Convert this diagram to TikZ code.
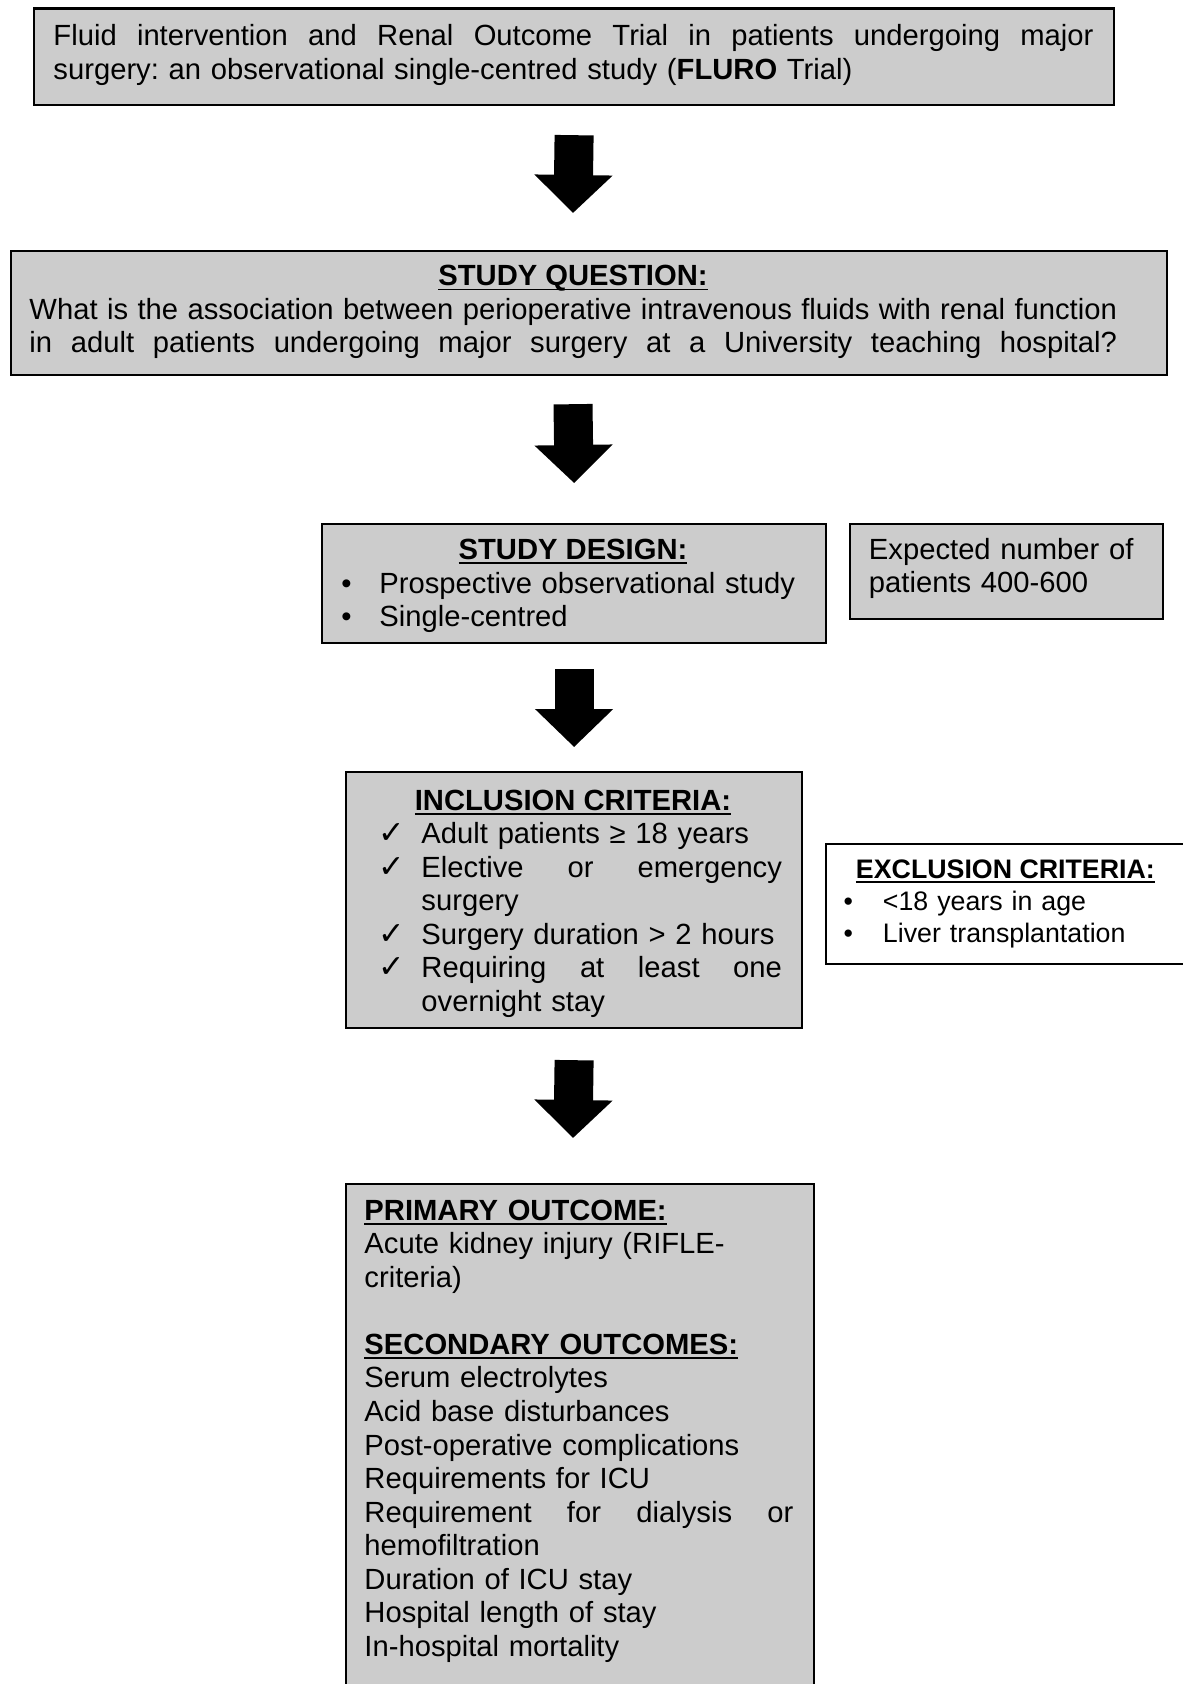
\documentclass[tikz,border=0pt]{standalone}
\usepackage{fontspec}
\setmainfont{Liberation Sans}
\newfontfamily\symfont{DejaVu Sans}
\usepackage{tikz}
\usetikzlibrary{arrows.meta,calc}
\definecolor{boxgray}{RGB}{204,204,204}
\newdimen\pxu \pxu=0.411pt
\frenchspacing
\newcommand{\hdr}[1]{\leavevmode\sbox0{\bfseries #1}\rlap{\rule[-1.9pt]{\wd0}{0.6pt}}\usebox0}
\newcommand{\jline}[2]{\leavevmode\hbox to #1\pxu{\spaceskip=0.278em plus 10em\relax #2}}
\newcommand{\chk}{\leavevmode\llap{{\fontsize{13}{13}\symfont ✓}\hspace{16\pxu}}}
\newcommand{\bul}[1]{\leavevmode\llap{•\hspace{#1\pxu}}}

\begin{document}
\begin{tikzpicture}[x=0.411pt,y=-0.411pt,
  panel/.style={draw=black,line width=0.9pt,fill=boxgray,inner sep=0pt,anchor=north west},
  body/.style={inner sep=0pt,anchor=base west,align=left,font=\fontsize{12}{13.8}\selectfont},
  small/.style={body,font=\fontsize{11}{13.15}\selectfont},
  head/.style={inner sep=0pt,anchor=base,font=\fontsize{12}{13.8}\selectfont},
  bigarrow/.style={line width=16.03pt,-{Triangle[width=31.24pt 0 0,length=15.62pt 0 0]}}]
\fill[white] (0,0) rectangle (1183,1684);
\clip (0,0) rectangle (1183,1684);
\coordinate (ax) at (573,0);

\node[panel,minimum width=1080*\pxu,minimum height=96.5*\pxu] (title) at (33,7.5) {};
\node[body,text width=1045*\pxu] (titletxt) at (53,45.5) {\jline{1040}{Fluid intervention and Renal Outcome Trial in patients undergoing major}\\
  surgery: an observational single-centred study (\textbf{FLURO} Trial)};

\node[panel,minimum width=1156.5*\pxu,minimum height=124*\pxu] (question) at (9.5,250) {};
\node[head] (qhead) at (573,285.5) {\hdr{STUDY QUESTION:}};
\node[body,text width=1095*\pxu] (qtxt) at (29,319) {\jline{1087.5}{What is the association between perioperative intravenous fluids with renal function}\\
  \jline{1087.5}{in adult patients undergoing major surgery at a University teaching hospital?}};

\node[panel,minimum width=504*\pxu,minimum height=119*\pxu] (design) at (321,523) {};
\node[head] (dhead) at (573,559) {\hdr{STUDY DESIGN:}};
\begin{scope}
\clip (321,523) rectangle (825,634);
\node[body,text width=420*\pxu] (dtxt) at (379,593) {\bul{28}Prospective observational study\\ \bul{28}Single-centred};
\end{scope}

\node[panel,minimum width=313*\pxu,minimum height=95*\pxu] (expected) at (849,523) {};
\node[body,text width=280*\pxu] (etxt) at (868.5,559) {Expected number of\\ patients 400-600};

\node[panel,minimum width=456*\pxu,minimum height=256*\pxu] (incl) at (345,771) {};
\node[head] (ihead) at (573,810) {\hdr{INCLUSION CRITERIA:}};
\node[body,text width=370*\pxu] (itxt) at (421,843.5) {\chk Adult patients ≥ 18 years\\
  \chk\jline{360.5}{Elective or emergency}\\
  surgery\\
  \chk Surgery duration > 2 hours\\
  \chk\jline{360.5}{Requiring at least one}\\
  overnight stay};

\node[panel,fill=white,minimum width=400*\pxu,minimum height=120*\pxu] (excl) at (824.5,843) {};
\node[small] (xhead) at (855.5,878) {\hdr{EXCLUSION CRITERIA:}};
\node[small,text width=280*\pxu] (xtxt) at (882.5,910) {\bul{30}<18 years in age\\ \bul{30}Liver transplantation};

\node[panel,minimum width=468*\pxu,minimum height=540*\pxu] (outcome) at (345,1183) {};
\node[body,text width=440*\pxu] (otxt) at (364,1220) {\hdr{PRIMARY OUTCOME:}\\
  Acute kidney injury (RIFLE-\\
  criteria)\\[13.8pt]
  \hdr{SECONDARY OUTCOMES:}\\
  Serum electrolytes\\
  Acid base disturbances\\
  Post-operative complications\\
  Requirements for ICU\\
  \jline{429}{Requirement for dialysis or}\\
  hemofiltration\\
  Duration of ICU stay\\
  Hospital length of stay\\
  In-hospital mortality};

\draw[bigarrow] ($(title.south)+(0,29)$) -- ($(ax |- question.north)+(0,-37)$);
\draw[bigarrow] ($(ax |- question.south)+(0,28)$) -- ($(design.north)+(0,-40)$);
\draw[bigarrow] ($(design.south)+(0,25)$) -- ($(incl.north)+(0,-24)$);
\draw[bigarrow] ($(incl.south)+(0,31)$) -- ($(ax |- outcome.north)+(0,-45)$);
\end{tikzpicture}
\end{document}
